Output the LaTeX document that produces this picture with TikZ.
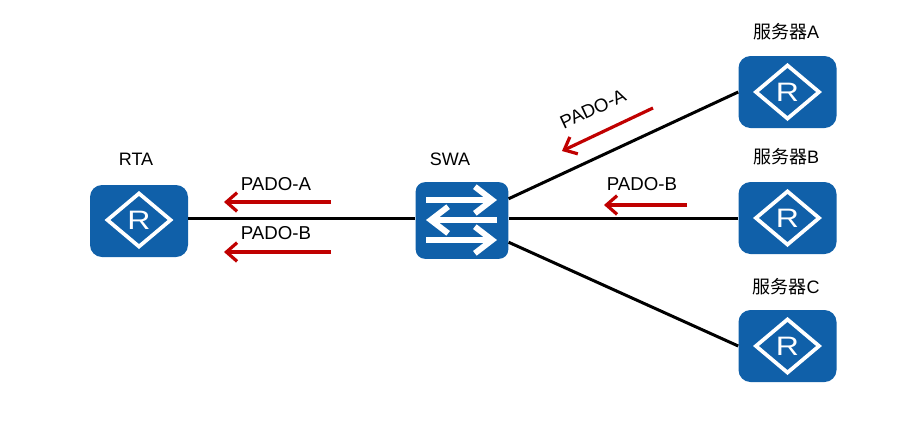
\documentclass[tikz,border=0pt]{standalone}
\usepackage{fontspec}
\setmainfont{Liberation Sans}
\newfontfamily\cjk{Noto Sans CJK SC}
\usetikzlibrary{shapes.geometric,arrows.meta,positioning}

\begin{document}
\begin{tikzpicture}[
  x=0.75pt, y=-0.75pt,
  font=\fontsize{13.5}{15}\selectfont,
  router/.style={rectangle, rounded corners=9pt, fill=devblue, minimum width=73.5pt, minimum height=54pt, inner sep=0pt},
  switchbox/.style={rectangle, rounded corners=7pt, fill=devblue, minimum width=69.5pt, minimum height=57.5pt, inner sep=0pt},
  rmark/.style={diamond, draw=white, line width=2.8pt, minimum width=48.5pt, minimum height=41pt, inner sep=0pt, text=white, font=\fontsize{20}{20}\selectfont},
  link/.style={line width=2.25pt, black},
  pado/.style={-{Straight Barb[length=8pt,width=14pt,line width=2.4pt]}, line width=2.4pt, msgred},
  swarr/.style={-{Straight Barb[length=13pt,width=20pt,line width=4.4pt]}, line width=4.4pt, white},
  msglabel/.style={font=\fontsize{14}{16}\selectfont}
]
\definecolor{devblue}{HTML}{1060A9}
\definecolor{msgred}{HTML}{C00000}
\useasboundingbox (0,0) rectangle (901,433);
% devices
\node[router] (rta) at (139,221) {};
\node[rmark] (rtamark) at (139,220) {\scalebox{1.2}[1]{R}};
\node[switchbox] (swa) at (462,220.5) {};
\node[router] (srva) at (787.5,92) {};
\node[rmark] (srvamark) at (srva) {\scalebox{1.2}[1]{R}};
\node[router] (srvb) at (787.5,218) {};
\node[rmark] (srvbmark) at (srvb) {\scalebox{1.2}[1]{R}};
\node[router] (srvc) at (787.5,346) {};
\node[rmark] (srvcmark) at (srvc) {\scalebox{1.2}[1]{R}};
% device names
\node (rtaname) at (136,159) {RTA};
\node (swaname) at (450,159) {SWA};
\node (srvaname) at (786,32) {{\cjk 服务器}A};
\node (srvbname) at (786,157) {{\cjk 服务器}B};
\node (srvcname) at (786,287) {{\cjk 服务器}C};
% switch arrows
\coordinate (swl1) at (426,200);
\coordinate (swr1) at (497,200);
\coordinate (swl2) at (426,220);
\coordinate (swr2) at (497,220);
\coordinate (swl3) at (426,240);
\coordinate (swr3) at (497,240);
\draw[swarr] (swl1) -- (swr1);
\draw[swarr] (swr2) -- (swl2);
\draw[swarr] (swl3) -- (swr3);
% links
\draw[link] (rta.east |- srvb.west) -- (swa.west |- srvb.west);
\draw[link] (swa.east |- srvb.west) -- (srvb.west);
\draw[link] (swa.25) -- (srva.west);
\draw[link] (swa.-25) -- (srvc.west);
% messages
\coordinate (m1a) at (331,202);
\coordinate (m1b) at (224,202);
\coordinate (m2a) at (331,252);
\coordinate (m2b) at (224,252);
\coordinate (m3a) at (653,108);
\coordinate (m3b) at (562,151);
\coordinate (m4a) at (687,205);
\coordinate (m4b) at (604,205);
\draw[pado] (m1a) -- (m1b);
\draw[pado] (m2a) -- (m2b);
\draw[pado] (m3a) -- (m3b);
\draw[pado] (m4a) -- (m4b);
\node[msglabel] (lab1) at (276,184) {PADO-A};
\node[msglabel] (lab2) at (276,233) {PADO-B};
\node[msglabel, rotate=25] (lab3) at (593,109) {PADO-A};
\node[msglabel] (lab4) at (642,184) {PADO-B};
\end{tikzpicture}
\end{document}
